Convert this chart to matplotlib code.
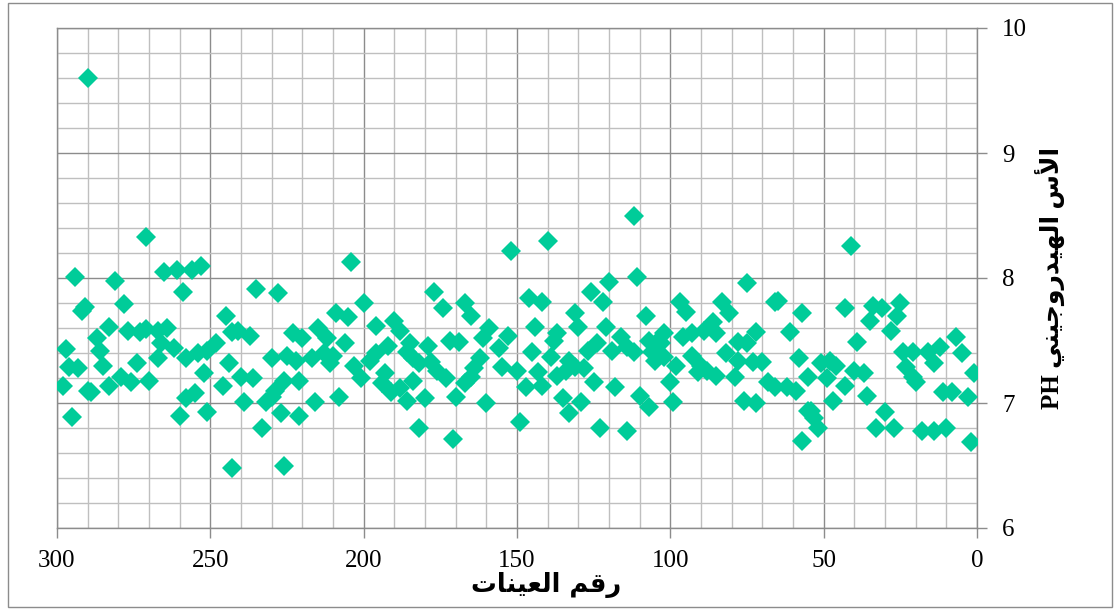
import matplotlib
matplotlib.use("Agg")
import matplotlib.pyplot as plt
from matplotlib.ticker import MultipleLocator
from matplotlib.patches import Rectangle

# ---------------- data (sample number, pH) ----------------
sample_no = [
    290, 271, 294, 281, 265, 261, 256, 253, 259, 291, 292, 278, 283, 277, 273, 271,
    267, 264, 287, 297, 286, 266, 262, 296, 293, 285, 274, 267, 258, 254, 251, 252,
    298, 289, 283, 279, 276, 270, 258, 255, 260, 295, 251, 290,
    204, 235, 228, 245, 209, 205, 243, 241, 237, 223, 220, 215, 212, 248, 230, 225,
    222, 217, 213, 211, 210, 206, 203, 244, 240, 236, 226, 221, 246, 229, 230, 239,
    232, 216, 208, 227, 221, 233, 243, 226,
    152, 177, 174, 167, 165, 200, 196, 190, 188, 159, 161, 153, 172, 169, 179, 192,
    196, 198, 185, 186, 184, 156, 178, 176, 173, 182, 162, 164, 165, 155, 201, 193,
    194, 191, 188, 184, 186, 180, 170, 167, 160, 182, 171,
    112, 140, 111, 120, 126, 122, 146, 142, 131, 108, 144, 130, 121, 137, 138, 116,
    114, 124, 127, 107, 104, 145, 139, 133, 131, 119, 112, 105, 150, 143, 137, 134,
    128, 147, 142, 125, 118, 135, 129, 133, 110, 107, 149, 123, 114,
    75, 97, 95, 83, 81, 66, 65, 57, 86, 85, 72, 61, 102, 103, 96, 93, 89, 78, 75,
    106, 102, 93, 82, 78, 98, 90, 88, 85, 91, 79, 73, 70, 58, 100, 68, 66, 62, 59,
    55, 99, 76, 72, 55, 57,
    41, 43, 34, 31, 25, 35, 26, 28, 39, 24, 21, 16, 12, 7, 5, 51, 48, 46, 40, 37,
    23, 21, 20, 14, 1, 49, 43, 36, 47, 11, 8, 3, 54, 53, 52, 30, 33, 27, 18, 14, 10, 2,
]
ph_value = [
    9.60, 8.33, 8.01, 7.98, 8.05, 8.06, 8.06, 8.10, 7.89, 7.77, 7.74, 7.79, 7.61, 7.58, 7.57, 7.59,
    7.58, 7.60, 7.52, 7.43, 7.42, 7.48, 7.44, 7.29, 7.28, 7.30, 7.32, 7.36, 7.36, 7.40, 7.42, 7.24,
    7.14, 7.09, 7.14, 7.21, 7.17, 7.18, 7.04, 7.08, 6.90, 6.89, 6.93, 7.10,
    8.13, 7.91, 7.88, 7.70, 7.72, 7.69, 7.57, 7.58, 7.54, 7.56, 7.52, 7.60, 7.52, 7.48, 7.36, 7.38,
    7.34, 7.36, 7.40, 7.32, 7.38, 7.48, 7.30, 7.32, 7.21, 7.20, 7.18, 7.18, 7.14, 7.10, 7.05, 7.01,
    7.01, 7.01, 7.05, 6.92, 6.90, 6.80, 6.48, 6.50,
    8.22, 7.89, 7.76, 7.80, 7.70, 7.80, 7.62, 7.66, 7.58, 7.60, 7.52, 7.54, 7.50, 7.49, 7.46, 7.46,
    7.40, 7.34, 7.48, 7.41, 7.36, 7.44, 7.33, 7.26, 7.20, 7.32, 7.36, 7.28, 7.21, 7.29, 7.20, 7.24,
    7.16, 7.09, 7.12, 7.18, 7.02, 7.04, 7.05, 7.16, 7.00, 6.80, 6.71,
    8.50, 8.30, 8.01, 7.97, 7.89, 7.81, 7.84, 7.81, 7.72, 7.70, 7.61, 7.61, 7.61, 7.56, 7.50, 7.53,
    7.45, 7.48, 7.42, 7.50, 7.50, 7.41, 7.37, 7.34, 7.29, 7.42, 7.41, 7.34, 7.26, 7.25, 7.22, 7.26,
    7.28, 7.13, 7.14, 7.17, 7.13, 7.04, 7.01, 6.92, 7.06, 6.97, 6.85, 6.80, 6.78,
    7.96, 7.81, 7.73, 7.81, 7.72, 7.81, 7.82, 7.72, 7.65, 7.56, 7.57, 7.57, 7.56, 7.48, 7.53, 7.56, 7.58, 7.49, 7.48,
    7.41, 7.37, 7.38, 7.40, 7.34, 7.30, 7.30, 7.26, 7.22, 7.25, 7.21, 7.33, 7.33, 7.36, 7.17, 7.17, 7.13, 7.13, 7.10,
    7.21, 7.01, 7.02, 7.00, 6.94, 6.70,
    8.26, 7.76, 7.78, 7.76, 7.80, 7.66, 7.70, 7.58, 7.49, 7.41, 7.41, 7.41, 7.45, 7.53, 7.40, 7.32, 7.34, 7.30, 7.26, 7.24,
    7.29, 7.21, 7.17, 7.32, 7.24, 7.20, 7.14, 7.06, 7.02, 7.09, 7.09, 7.05, 6.94, 6.88, 6.80, 6.93, 6.80, 6.80, 6.78, 6.78, 6.80, 6.69,
]

x_ticks = [0, 50, 100, 150, 200, 250, 300]
y_ticks = [6, 7, 8, 9, 10]
x_title = "رقم العينات"
y_title_ar = "الأس الهيدروجيني"
y_title_lat = "PH"

# ---------------- minimal Arabic shaping (presentation forms) ----------------
FORMS = {  # isolated, final, initial, medial
    'ا': ('\uFE8D', '\uFE8E'), 'أ': ('\uFE83', '\uFE84'),
    'د': ('\uFEA9', '\uFEAA'), 'ر': ('\uFEAD', '\uFEAE'), 'و': ('\uFEED', '\uFEEE'),
    'ل': ('\uFEDD', '\uFEDE', '\uFEDF', '\uFEE0'),
    'س': ('\uFEB1', '\uFEB2', '\uFEB3', '\uFEB4'),
    'ه': ('\uFEE9', '\uFEEA', '\uFEEB', '\uFEEC'),
    'ي': ('\uFEF1', '\uFEF2', '\uFEF3', '\uFEF4'),
    'ج': ('\uFE9D', '\uFE9E', '\uFE9F', '\uFEA0'),
    'ن': ('\uFEE5', '\uFEE6', '\uFEE7', '\uFEE8'),
    'ق': ('\uFED5', '\uFED6', '\uFED7', '\uFED8'),
    'م': ('\uFEE1', '\uFEE2', '\uFEE3', '\uFEE4'),
    'ع': ('\uFEC9', '\uFECA', '\uFECB', '\uFECC'),
    'ت': ('\uFE95', '\uFE96', '\uFE97', '\uFE98'),
}
LAM_ALEF = {'ا': ('\uFEFB', '\uFEFC'), 'أ': ('\uFEF7', '\uFEF8')}


def dual(c):
    return c in FORMS and len(FORMS[c]) == 4


def shape_rtl(text):
    out = []
    i, n = 0, len(text)
    while i < n:
        c = text[i]
        if c not in FORMS:
            out.append(c)
            i += 1
            continue
        prev_c = i > 0 and dual(text[i - 1])
        if c == 'ل' and i + 1 < n and text[i + 1] in LAM_ALEF:
            out.append(LAM_ALEF[text[i + 1]][1 if prev_c else 0])
            i += 2
            continue
        next_c = dual(c) and i + 1 < n and text[i + 1] in FORMS
        f = FORMS[c]
        if prev_c and next_c:
            out.append(f[3])
        elif prev_c:
            out.append(f[1])
        elif next_c:
            out.append(f[2])
        else:
            out.append(f[0])
        i += 1
    return ''.join(out)[::-1]


# ---------------- figure ----------------
W, H = 1115, 609
fig = plt.figure(figsize=(W / 100, H / 100), dpi=100)
fig.patch.set_facecolor('white')
fig.add_artist(Rectangle((8 / W, 2 / H), (1112 - 8) / W, (606 - 2) / H,
                         transform=fig.transFigure, fill=False,
                         edgecolor='#8c8c8c', linewidth=1.0))

ax = fig.add_axes([57 / W, 1 - 528 / H, 920 / W, 500 / H])
ax.plot(sample_no, ph_value, linestyle='none', marker='D', markersize=9.8,
        color='#00CC99', markeredgewidth=0, zorder=3)

ax.set_xlim(300, 0)
ax.set_ylim(6, 10)
ax.set_xticks(x_ticks)
ax.set_yticks(y_ticks)
ax.xaxis.set_minor_locator(MultipleLocator(10))
ax.yaxis.set_minor_locator(MultipleLocator(0.2))
ax.set_axisbelow(True)
ax.grid(which='minor', color='#bfbfbf', linewidth=1.0)
ax.grid(which='major', color='#8c8c8c', linewidth=1.0)

ax.yaxis.tick_right()
for s in ax.spines.values():
    s.set_color('#8c8c8c')
    s.set_linewidth(1.0)
ax.tick_params(which='major', direction='out', length=7, width=1.0, color='#8c8c8c',
               labelsize=18, pad=9)
ax.tick_params(axis='y', which='major', pad=11)
ax.tick_params(which='minor', length=0)
for lab in ax.get_xticklabels() + ax.get_yticklabels():
    lab.set_fontfamily('Liberation Serif')

fig.text(546 / W, 1 - 585 / H, shape_rtl(x_title), ha='center', va='center',
         fontsize=18.5, fontweight='bold', family=['DejaVu Sans'])
fig.text(1050 / W, 1 - 278 / H, y_title_lat + ' ' + shape_rtl(y_title_ar),
         ha='center', va='center', rotation=90, fontsize=18, fontweight='bold',
         family=['Liberation Serif', 'DejaVu Sans'])

fig.savefig('out.png', dpi=100)
